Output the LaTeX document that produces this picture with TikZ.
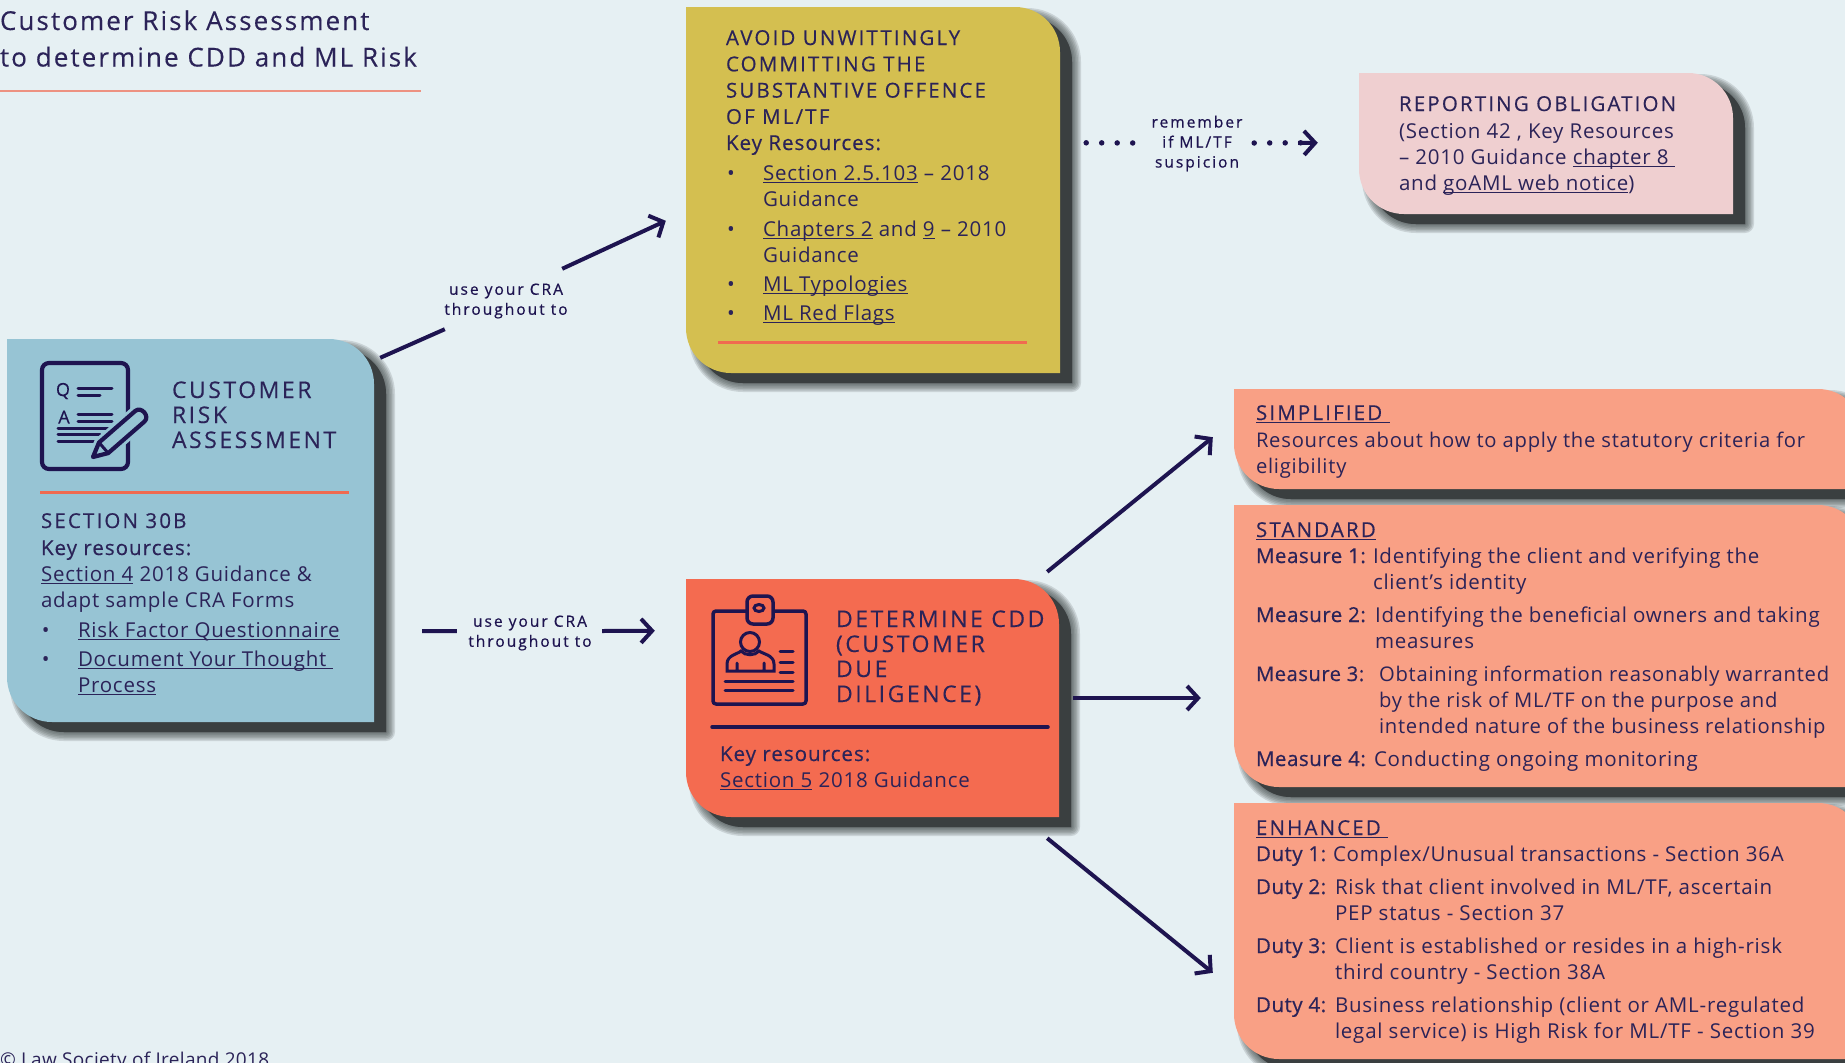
\documentclass[tikz,border=0pt]{standalone}
\usepackage{fontspec}
\setmainfont[LetterSpace=3.8]{Open Sans}
\newfontfamily\medf[FakeBold=0.5,LetterSpace=5]{Open Sans}
\newfontfamily\labf[FakeBold=0.5,LetterSpace=2.5]{Open Sans}
\newfontfamily\headf[FakeBold=0.4,LetterSpace=10.5]{Open Sans}
\newfontfamily\bigf[FakeBold=0.2,LetterSpace=11]{Open Sans}
\newfontfamily\titlef[FakeBold=0.2,LetterSpace=8]{Open Sans}
\newfontfamily\lblf[FakeBold=0.7,LetterSpace=13]{Open Sans}
\newfontfamily\footf[LetterSpace=1.7]{Open Sans}
\usetikzlibrary{arrows.meta,calc,fit}
\definecolor{bgc}{HTML}{E6F0F3}
\definecolor{navy}{HTML}{1E1450}
\definecolor{ink}{HTML}{2B2358}
\definecolor{craC}{HTML}{97C4D4}
\definecolor{avoidC}{HTML}{D4BF50}
\definecolor{cddC}{HTML}{F46B50}
\definecolor{lightC}{HTML}{F9A085}
\definecolor{pinkC}{HTML}{EFCFD0}
\definecolor{redC}{HTML}{F06A50}
\definecolor{shadowC}{HTML}{3A3F40}
\newcommand\cardpath[4]{(#1,#2) -- ({#3-45},#2) .. controls ({#3-20},#2) and (#3,{#2+20}) .. (#3,{#2+45}) -- (#3,#4) -- ({#1+45},#4) .. controls ({#1+20},#4) and (#1,{#4-20}) .. (#1,{#4-45}) -- cycle}
% name, x1, y1, x2, y2, colour
\newcommand\card[6]{%
  \begin{scope}[shift={(12,10)},line join=round]
    \foreach \w in {18,15,12,9,6,3}{\filldraw[shadowC,opacity=.16,line width=\w pt] \cardpath{#2}{#3}{#4}{#5};}
    \fill[shadowC] \cardpath{#2}{#3}{#4}{#5};
  \end{scope}
  \fill[#6] \cardpath{#2}{#3}{#4}{#5};
  \node[fit={(#2,#3)(#4,#5)},inner sep=0pt,name=#1]{};
}
% text block: name, x, first baseline y, size/leading font, text
\newcommand\blk[5]{\node[blockt,name=#1,font=#4] at (#2,{#3-24}) {\rule{0pt}{24pt}#5};}
\newcommand\lnk[1]{\setbox0\hbox{#1}\rlap{\rule[-2.8pt]{\wd0}{1.2pt}}\box0\relax}
\newcommand\body{\fontsize{20.5}{26.3}\selectfont}
\newcommand\bodyn{\fontsize{20.2}{26.3}\selectfont}
\newcommand\medt{\fontsize{20.5}{26.3}\medf\selectfont}
\newcommand\headt{\fontsize{20.5}{26.3}\headf\selectfont}
\newcommand\bul[1]{\makebox[37pt][l]{\hspace{1pt}•}#1}
\tikzset{
  blockt/.style={anchor=north west,inner sep=0pt,outer sep=0pt,align=left,text=ink},
  conn/.style={navy,line width=4pt},
  tipped/.style={conn,-{Straight Barb[length=11pt,width=24pt,line width=4pt]}},
  dots/.style={navy,line width=5.5pt,line cap=round,dash pattern=on 0pt off 15.5pt},
  cra label/.style={anchor=center,inner sep=0pt,align=center,text=navy,minimum width=130pt,minimum height=46pt,font={\fontsize{15.5}{20}\lblf\selectfont}},
  rule line/.style={redC,line width=3pt},
  icon/.style={navy,line width=4.2pt,line join=round,line cap=round},
  iconthin/.style={navy,line width=3pt,line cap=round},
}
\begin{document}
\begin{tikzpicture}[x=1pt,y=-1pt]
\useasboundingbox (0,0) rectangle (1845,1063);
\clip (0,0) rectangle (1845,1063);
\fill[bgc] (0,0) rectangle (1845,1063);

% title
\blk{title}{0}{30}{\fontsize{26}{36.5}\titlef\selectfont}{Customer Risk Assessment\\to determine CDD and ML Risk}
\draw[redC!70!bgc,line width=1.8pt] (title.south west |- 0,91) -- (421,91);
\blk{foot}{0}{1066}{\fontsize{19}{24}\footf\selectfont}{© Law Society of Ireland 2018}

% cards
\card{cra}{7}{339}{374}{722}{craC}
\card{avoid}{686}{7}{1060}{373}{avoidC}
\card{cdd}{686}{579}{1059}{817}{cddC}
\card{report}{1359}{73}{1733}{214}{pinkC}
\card{simp}{1234}{389}{1863}{489}{lightC}
\card{stand}{1234}{505}{1863}{787}{lightC}
\card{enh}{1234}{803}{1863}{1059}{lightC}

% CRA icon
\draw[icon,rounded corners=7pt] (42,363) rectangle (128,469);
\node[name=iconq,text=navy,inner sep=0pt,font=\fontsize{18}{18}\medf\selectfont] at (63,391) {Q};
\node[name=icona,text=navy,inner sep=0pt,font=\fontsize{18}{18}\medf\selectfont] at (64,417) {A};
\draw[iconthin] (78,388) -- (112,388) (78,395) -- (100,395) (78,414) -- (112,414) (78,421) -- (112,421) (58,428) -- (108,428) (58,434) -- (100,434) (58,441) -- (95,441);
\path[fill=craC,draw=craC,line width=10pt,line join=round] (93,457) -- (99,442.5) -- (135.2,411) .. controls (141.2,405.8) and (150.4,416.4) .. (144.4,421.6) -- (108.2,453.1) -- cycle;
\draw[icon] (93,457) -- (99,442.5) -- (135.2,411) .. controls (141.2,405.8) and (150.4,416.4) .. (144.4,421.6) -- (108.2,453.1) -- cycle;
\draw[iconthin] (99,442.5) -- (108.2,453.1);

% CRA text
\blk{crah}{172}{398}{\fontsize{23}{25}\bigf\selectfont}{CUSTOMER\\RISK\\ASSESSMENT}
\draw[rule line] (40,492) -- (349,492);
\blk{cra1}{41}{528}{\headt}{SECTION 30B}
\blk{cra2}{41}{555}{\medt}{Key resources:}
\blk{cra3}{41}{581}{\body}{\lnk{Section 4} 2018 Guidance \&\\adapt sample CRA Forms}
\blk{cra4}{41}{637}{\body}{\bul{\lnk{Risk Factor Questionnaire}}}
\blk{cra5}{41}{666}{\body}{\bul{\lnk{Document Your Thought }}\\\hspace*{37pt}\lnk{Process}}

% Avoid text
\blk{av1}{726}{45}{\headt}{AVOID UNWITTINGLY\\COMMITTING THE\\SUBSTANTIVE OFFENCE\\OF ML/TF}
\blk{av2}{726}{150}{\medt}{Key Resources:}
\blk{av3}{726}{180}{\body}{\bul{\lnk{Section 2.5.103} – 2018}\\\hspace*{37pt}Guidance}
\blk{av4}{726}{236}{\body}{\bul{\lnk{Chapters 2} and \lnk{9} – 2010}\\\hspace*{37pt}Guidance}
\blk{av5}{726}{291}{\body}{\bul{\lnk{ML Typologies}}}
\blk{av6}{726}{320}{\body}{\bul{\lnk{ML Red Flags}}}
\draw[rule line] (718,342) -- (1027,342);

% CDD icon
\draw[icon,line width=3.5pt,rounded corners=3pt] (713,611) rectangle (806,704);
\draw[icon,line width=3.5pt,fill=cddC,rounded corners=6pt] (747,596) rectangle (773,624);
\draw[iconthin] (759,608) ellipse (5 and 3.5);
\draw[iconthin] (750,642) circle (9.5);
\draw[iconthin] (727,671) -- (727,664) .. controls (727,655) and (738,654) .. (741,651) .. controls (745,656) and (755,656) .. (759,651) .. controls (763,654) and (774,655) .. (774,664) -- (774,671) -- cycle (737,663) -- (737,671) (764,663) -- (764,671);
\draw[iconthin] (780,651) -- (793,651) (780,662) -- (793,662) (780,672) -- (793,672) (725,681) -- (793,681) (725,690) -- (793,690);

% CDD text
\blk{cddh}{836}{627}{\fontsize{23}{25}\bigf\selectfont}{DETERMINE CDD\\(CUSTOMER\\DUE\\DILIGENCE)}
\draw[navy,line width=3.5pt,line cap=round] (712,727) -- (1048,727);
\blk{cdd1}{720}{761}{\medt}{Key resources:}
\blk{cdd2}{720}{787}{\body}{\lnk{Section 5} 2018 Guidance}

% Reporting
\blk{rep1}{1399}{111}{\headt}{REPORTING OBLIGATION}
\blk{rep2}{1399}{138}{\body}{(Section 42 , Key Resources\\– 2010 Guidance \lnk{chapter 8 }\\and \lnk{goAML web notice})}

% Simplified
\blk{si1}{1256}{420}{\headt}{\lnk{SIMPLIFIED }}
\blk{si2}{1256}{447}{\bodyn}{Resources about how to apply the statutory criteria for\\eligibility}

% Standard
\blk{st0}{1256}{537}{\headt}{\lnk{STANDARD}}
\blk{st1}{1256}{563}{\body}{\makebox[117pt][l]{\labf Measure 1:}Identifying the client and verifying the\\\hspace*{117pt}client’s identity}
\blk{st2}{1256}{622}{\body}{\makebox[119pt][l]{\labf Measure 2:}Identifying the beneficial owners and taking\\\hspace*{119pt}measures}
\blk{st3}{1256}{681}{\bodyn}{\makebox[123pt][l]{\labf Measure 3:}Obtaining information reasonably warranted\\\hspace*{123pt}by the risk of ML/TF on the purpose and\\\hspace*{123pt}intended nature of the business relationship}
\blk{st4}{1256}{766}{\body}{\makebox[118pt][l]{\labf Measure 4:}Conducting ongoing monitoring}

% Enhanced
\blk{en0}{1256}{835}{\headt}{\lnk{ENHANCED }}
\blk{en1}{1256}{861}{\body}{\makebox[77pt][l]{\labf Duty 1:}Complex/Unusual transactions - Section 36A}
\blk{en2}{1256}{894}{\body}{\makebox[79pt][l]{\labf Duty 2:}Risk that client involved in ML/TF, ascertain\\\hspace*{79pt}PEP status - Section 37}
\blk{en3}{1256}{953}{\body}{\makebox[79pt][l]{\labf Duty 3:}Client is established or resides in a high-risk\\\hspace*{79pt}third country - Section 38A}
\blk{en4}{1256}{1012}{\body}{\makebox[79pt][l]{\labf Duty 4:}Business relationship (client or AML-regulated\\\hspace*{79pt}legal service) is High Risk for ML/TF - Section 39}

% connector labels
\node[cra label,name=lbl1] at (506,301) {use your CRA\\throughout to};
\node[cra label,name=lbl2] at (530,633) {use your CRA\\throughout to};
\node[cra label,name=lbl3,minimum width=100pt,minimum height=60pt] at (1197,143.5) {remember\\if ML/TF\\suspicion};

% connectors
\draw[conn] ($(cra.north east)+(6,19)$) -- ($(lbl1.south west)+(4,5)$);
\draw[tipped] ($(lbl1.north east)+(-9,-9)$) -- ($(avoid.north west)+(-20,214)$);
\draw[conn] ($(cra.south east)+(48,-91)$) -- ($(lbl2.west)+(-8,-2)$);
\draw[tipped] ($(lbl2.east)+(7,-2)$) -- ($(cdd.north west)+(-31,52)$);
\draw[dots] ($(avoid.north east)+(26,136)$) -- ($(lbl3.west)+(-10,-0.5)$);
\draw[dots] ($(lbl3.east)+(7,-0.5)$) -- ($(report.north west)+(-57,70)$);
\draw[tipped] ($(lbl3.east)+(51,-0.5)$) -- ($(report.north west)+(-41,70)$);
\draw[tipped] ($(cdd.north east)+(-12,-7)$) -- ($(simp.south west)+(-21,-52)$);
\draw[tipped] ($(cdd.east)+(14,0)$) -- ($(stand.west)+(-33,52)$);
\draw[tipped] ($(cdd.south east)+(-12,21)$) -- ($(enh.north west)+(-21,170)$);
\end{tikzpicture}
\end{document}
